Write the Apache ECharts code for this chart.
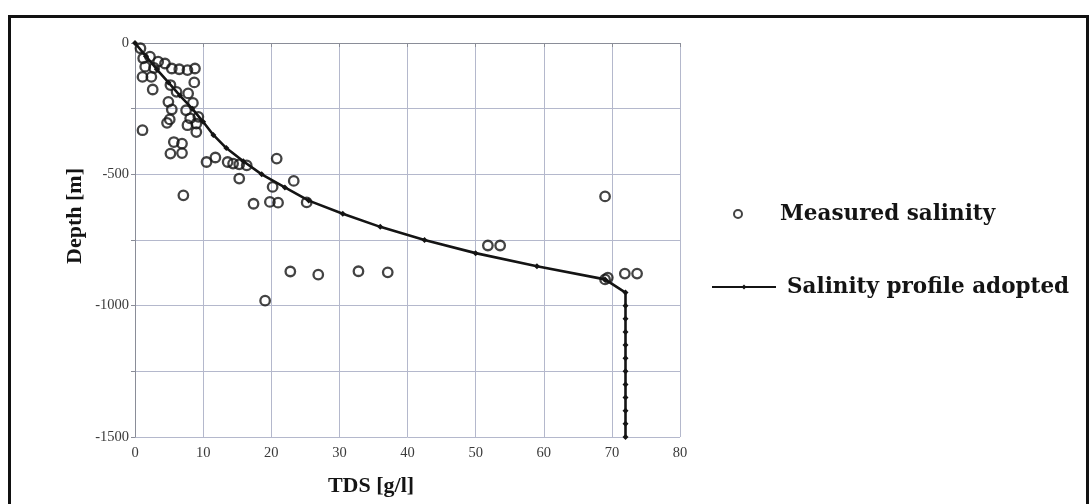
<!DOCTYPE html>
<html>
<head>
<meta charset="utf-8">
<title>Salinity vs depth</title>
<script src="https://cdn.jsdelivr.net/npm/echarts@6/dist/echarts.min.js"></script>
<style>
  html, body { margin: 0; padding: 0; background: #fff; }
  #chart { width: 1089px; height: 504px; }
</style>
</head>
<body>
<div id="chart"></div>
<script>
// Measured salinity samples: TDS [g/l] and depth [m]
const measuredTds = [
  0.8, 1.2, 2.2, 3.4, 4.4, 5.4, 6.5, 7.7, 8.8, 1.5, 2.8,
  1.1, 2.4, 2.6, 8.7, 5.2, 6.1, 7.8, 8.5,
  4.9, 5.4, 5.1, 7.5, 8.1, 9.3, 7.7, 9.0, 9.0, 4.7,
  1.1, 5.7, 6.9, 5.2, 6.9,
  10.5, 11.8, 13.6, 14.4, 15.3, 16.4, 15.3, 20.8, 23.3, 20.2,
  17.4, 19.8, 21.0, 25.2, 7.1,
  19.1, 22.8, 26.9, 32.8, 37.1,
  51.8, 53.6, 69.0, 69.0, 69.4, 71.9, 73.7
];
const measuredDepth = [
  -20, -58, -52, -71, -78, -97, -100, -103, -97, -90, -95,
  -129, -129, -177, -150, -160, -186, -192, -228,
  -224, -253, -291, -256, -287, -281, -313, -339, -307, -304,
  -332, -377, -383, -421, -419,
  -453, -436, -453, -459, -462, -466, -516, -440, -525, -548,
  -612, -605, -608, -607, -580,
  -981, -870, -882, -869, -873,
  -771, -771, -584, -900, -893, -878, -878
];

// Adopted salinity profile, one node every 50 m
const profileDepth = [
  0, -50, -100, -150, -200, -250, -300, -350, -400, -450, -500,
  -550, -600, -650, -700, -750, -800, -850, -900, -950,
  -1000, -1050, -1100, -1150, -1200, -1250, -1300, -1350, -1400, -1450, -1500
];
const profileTds = [
  0, 1.6, 3.2, 4.9, 6.6, 8.4, 10.0, 11.5, 13.4, 15.9, 18.6,
  22.0, 25.5, 30.5, 36.0, 42.5, 50.0, 59.0, 69.0, 72.0,
  72, 72, 72, 72, 72, 72, 72, 72, 72, 72, 72
];

const seriesNames = ['Measured salinity', 'Salinity profile adopted'];
const axisTitles = { x: 'TDS [g/l]', y: 'Depth [m]' };

const measuredPoints = measuredTds.map((t, i) => [t, measuredDepth[i]]);
const profilePoints = profileTds.map((t, i) => [t, profileDepth[i]]);

const serif = 'Liberation Serif';
const ink = '#141414';
const gridColor = '#b4b8cc';
const axisColor = '#8a8d98';
const legendText = { color: ink, fontFamily: 'DejaVu Serif', fontWeight: 'bold', fontSize: 21.5 };

const chart = echarts.init(document.getElementById('chart'), null, { renderer: 'canvas' });

chart.setOption({
  backgroundColor: '#ffffff',
  animation: false,
  grid: { left: 135, right: 409, top: 43, bottom: 67, containLabel: false },
  xAxis: {
    type: 'value', min: 0, max: 80, interval: 10,
    axisLine: { show: true, lineStyle: { color: axisColor, width: 1 } },
    axisTick: { show: true, length: 4, lineStyle: { color: axisColor } },
    axisLabel: { color: '#3a3a3a', fontFamily: serif, fontSize: 14.5, margin: 9 },
    splitLine: { show: true, lineStyle: { color: gridColor, width: 1 } }
  },
  yAxis: {
    type: 'value', min: -1500, max: 0, interval: 250,
    axisLine: { show: true, onZero: false, lineStyle: { color: axisColor, width: 1 } },
    axisTick: { show: true, length: 4, lineStyle: { color: axisColor } },
    axisLabel: {
      color: '#3a3a3a', fontFamily: serif, fontSize: 14.5, margin: 6,
      formatter: v => (v % 500 === 0 ? String(v) : '')
    },
    splitLine: { show: true, lineStyle: { color: gridColor, width: 1 } }
  },
  legend: [
    {
      data: [seriesNames[0]],
      left: 728, top: 198,
      itemWidth: 62, itemHeight: 8,
      textStyle: Object.assign({ padding: [0, 0, 0, 6] }, legendText),
      selectedMode: false
    },
    {
      data: [seriesNames[1]],
      left: 706, top: 271,
      itemWidth: 64, itemHeight: 6,
      textStyle: Object.assign({ padding: [0, 0, 0, 6] }, legendText),
      selectedMode: false
    }
  ],
  series: [
    {
      name: seriesNames[0],
      type: 'scatter',
      data: measuredPoints,
      symbol: 'circle',
      symbolSize: 9.5,
      itemStyle: { color: 'rgba(255,255,255,0)', borderColor: ink, borderWidth: 2.3 },
      z: 2
    },
    {
      name: seriesNames[1],
      type: 'line',
      data: profilePoints,
      symbol: 'diamond',
      symbolSize: 6,
      showSymbol: true,
      lineStyle: { color: ink, width: 2.6 },
      itemStyle: { color: ink },
      z: 3
    }
  ],
  graphic: [
    {
      type: 'rect', left: 7, top: 14, silent: true,
      shape: { width: 1078, height: 500 },
      style: { fill: 'none', stroke: '#111', lineWidth: 3 }
    },
    {
      type: 'text', x: 75, y: 216, rotation: Math.PI / 2,
      style: {
        text: axisTitles.y, fill: ink, font: 'bold 22px "Liberation Serif"',
        textAlign: 'center', textVerticalAlign: 'middle'
      }
    },
    {
      type: 'text', x: 371, y: 486,
      style: {
        text: axisTitles.x, fill: ink, font: 'bold 22px "Liberation Serif"',
        textAlign: 'center', textVerticalAlign: 'middle'
      }
    }
  ]
});
</script>
</body>
</html>
